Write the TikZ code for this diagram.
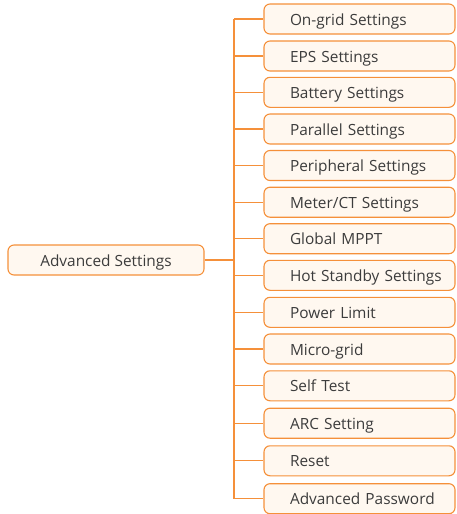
\documentclass[tikz,border=0pt]{standalone}
\usepackage{fontspec}
\setmainfont{Open Sans}
\definecolor{menuorange}{HTML}{F5903A}
\definecolor{menufill}{HTML}{FFF8F0}
\definecolor{menutext}{HTML}{3C3C3C}
\begin{document}
\begin{tikzpicture}[x=1pt,y=-1pt,
    menubox/.style={draw=menuorange, fill=menufill, line width=1.1pt, rounded corners=6pt,
      minimum height=30pt, text=menutext, text height=13pt, text depth=1pt,
      font=\fontsize{15.4}{18}\selectfont},
    itembox/.style={menubox, text width=165pt, inner xsep=13pt, align=left,
      execute at begin node=\hspace*{13pt}},
    branch/.style={draw=menuorange, line width=1.1pt}]
    \useasboundingbox (0,0) rectangle (456,514);
    \node[menubox, minimum width=196pt] (advanced) at (106,260) {Advanced Settings};
    \foreach \y/\name [count=\i] in {19/{On-grid Settings}, 56/{EPS Settings},
        92.3/{Battery Settings}, 129/{Parallel Settings}, 165.5/{Peripheral Settings},
        202.2/{Meter/CT Settings}, 238.7/{Global MPPT}, 275.3/{Hot Standby Settings},
        312.3/{Power Limit}, 349/{Micro-grid}, 385.8/{Self Test}, 423.2/{ARC Setting},
        460.8/{Reset}, 498.7/{Advanced Password}} {
        \coordinate (t\i) at (234,\y);
        \node[itembox] (item\i) at (359.5,\y) {\name};
        \draw[branch] (t\i) -- (item\i.west);
    }
    \draw[branch] (t1) -- (t14);
    \draw[branch] (advanced.east) -- (advanced.east -| t1);
\end{tikzpicture}
\end{document}
